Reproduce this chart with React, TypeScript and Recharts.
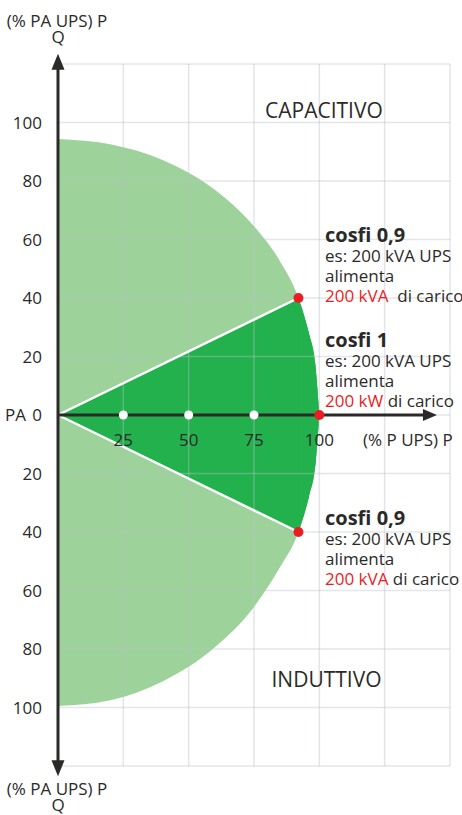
import React from "react";
import {
  Area,
  CartesianGrid,
  ComposedChart,
  ReferenceLine,
  Scatter,
  XAxis,
  YAxis,
} from "recharts";

const FONT = '"Open Sans", sans-serif';
const INK = "#2b2a29";
const LIGHT_GREEN = "#9dd39b";
const DARK_GREEN = "#22b14c";
const RED = "#ec1c24";

// Boundary of the UPS capability area: x = % of rated P, y = % of rated Q.
const ARC_X = [0, 20, 40, 60, 75, 85, 92, 96, 98.5, 100];
const ARC_TOP = [94.4, 92.6, 87.2, 77, 64.5, 52.5, 40, 28, 17, 0];
const ARC_BOTTOM = [-99.5, -97.5, -91.1, -79.4, -65.6, -52, -40, -28, -17, 0];

// cosfi 0,9 corners
const PF_P = 92;
const PF_Q = 40;

const X_TICKS = [0, 25, 50, 75, 100, 125, 150];
const Y_TICKS = [-120, -100, -80, -60, -40, -20, 0, 20, 40, 60, 80, 100, 120];
const AXIS_MARKS = [25, 50, 75, 100];
const RED_POINTS = [
  { x: 100, y: 0 },
  { x: PF_P, y: PF_Q },
  { x: PF_P, y: -PF_Q },
];

const data = ARC_X.map((x, i) => ({
  x,
  shell: [ARC_BOTTOM[i], ARC_TOP[i]],
  cap: x >= PF_P ? [ARC_BOTTOM[i], ARC_TOP[i]] : null,
  wedge: x === 0 ? [0, 0] : x >= PF_P ? [ARC_BOTTOM[i], ARC_TOP[i]] : null,
}));

const markData = AXIS_MARKS.map((x) => ({ x, y: 0 }));

function QTick(props: any) {
  const { x, y, payload } = props;
  const v = payload.value;
  if (Math.abs(v) > 100) return <g />;
  return (
    <g fontFamily={FONT} fontSize={17} fill={INK}>
      {v === 0 && (
        <text x={5} y={y} dy="0.355em" fill={INK}>
          PA
        </text>
      )}
      <text x={x} y={y} dy="0.355em" textAnchor="end" fill={INK}>
        {Math.abs(v)}
      </text>
    </g>
  );
}

function AxisMark(props: any) {
  const { cx, cy, payload } = props;
  return (
    <g>
      {payload.x < 100 && <circle cx={cx} cy={cy} r={4.5} fill="#fff" />}
      <text
        x={cx}
        y={cy + 31}
        textAnchor="middle"
        fontFamily={FONT}
        fontSize={17}
        fill={INK}
      >
        {payload.x}
      </text>
    </g>
  );
}

function RedDot(props: any) {
  return <circle cx={props.cx} cy={props.cy} r={5} fill={RED} />;
}

function Arrow(props: any) {
  const { x1, y1, x2, y2, both, len, wide } = props;
  const dx = x2 - x1;
  const dy = y2 - y1;
  const d = Math.hypot(dx, dy) || 1;
  const ux = dx / d;
  const uy = dy / d;
  const head = (tx: number, ty: number, sx: number, sy: number) => {
    const bx = tx - sx * len;
    const by = ty - sy * len;
    return `${tx},${ty} ${bx - (sy * wide) / 2},${by + (sx * wide) / 2} ${
      bx + (sy * wide) / 2
    },${by - (sx * wide) / 2}`;
  };
  const sx = both ? x1 + ux * (len - 2) : x1;
  const sy = both ? y1 + uy * (len - 2) : y1;
  return (
    <g>
      <line
        x1={sx}
        y1={sy}
        x2={x2 - ux * (len - 2)}
        y2={y2 - uy * (len - 2)}
        stroke={INK}
        strokeWidth={3}
      />
      <polygon points={head(x2, y2, ux, uy)} fill={INK} />
      {both && <polygon points={head(x1, y1, -ux, -uy)} fill={INK} />}
    </g>
  );
}

function Note({
  x,
  y,
  title,
  load,
  gap,
}: {
  x: number;
  y: number;
  title: string;
  load: string;
  gap: string;
}) {
  return (
    <g fontFamily={FONT} fill={INK}>
      <text x={x} y={y} fontSize={20} fontWeight={700}>
        {title}
      </text>
      <text x={x} y={y + 20} fontSize={17}>
        es: 200 kVA UPS
      </text>
      <text x={x} y={y + 40} fontSize={17}>
        alimenta
      </text>
      <text x={x} y={y + 60} fontSize={17}>
        <tspan fill={RED}>{load}</tspan>
        <tspan>{gap + "di carico"}</tspan>
      </text>
    </g>
  );
}

export default function App() {
  return (
    <div style={{ position: "relative", width: 462, height: 815 }}>
      <style>{"body{margin:0}"}</style>
      <ComposedChart
        width={462}
        height={815}
        data={data}
        margin={{ top: 64, right: 12, bottom: 49, left: 0 }}
      >
        <XAxis type="number" dataKey="x" domain={[0, 150]} ticks={X_TICKS} hide />
        <YAxis
          type="number"
          dataKey="y"
          domain={[-120, 120]}
          ticks={Y_TICKS}
          interval={0}
          width={58}
          axisLine={false}
          tickLine={false}
          tickMargin={10}
          tick={<QTick />}
        />
        <Area
          dataKey="shell"
          type="monotone"
          fill={LIGHT_GREEN}
          fillOpacity={1}
          stroke="none"
          isAnimationActive={false}
        />
        <Area
          dataKey="wedge"
          type="linear"
          connectNulls
          fill={DARK_GREEN}
          fillOpacity={1}
          stroke="none"
          isAnimationActive={false}
        />
        <Area
          dataKey="cap"
          type="monotone"
          connectNulls
          fill={DARK_GREEN}
          fillOpacity={1}
          stroke="none"
          isAnimationActive={false}
        />
        <CartesianGrid
          stroke="#b9bfc9"
          strokeOpacity={0.4}
          strokeWidth={1.5}
          {...({ zIndex: 150 } as any)}
        />
        <ReferenceLine
          segment={[
            { x: 0, y: 0 },
            { x: PF_P, y: PF_Q },
          ]}
          stroke="#fff"
          strokeWidth={2.5}
          ifOverflow="visible"
        />
        <ReferenceLine
          segment={[
            { x: 0, y: 0 },
            { x: PF_P, y: -PF_Q },
          ]}
          stroke="#fff"
          strokeWidth={2.5}
          ifOverflow="visible"
        />
        <ReferenceLine
          segment={[
            { x: 0, y: -123.5 },
            { x: 0, y: 123.5 },
          ]}
          ifOverflow="visible"
          shape={(p: any) => <Arrow {...p} both len={16} wide={13} />}
        />
        <ReferenceLine
          segment={[
            { x: 0, y: 0 },
            { x: 145, y: 0 },
          ]}
          ifOverflow="visible"
          shape={(p: any) => <Arrow {...p} len={14} wide={12} />}
        />
        <Scatter data={markData} shape={AxisMark} isAnimationActive={false} />
        <Scatter data={RED_POINTS} shape={RedDot} isAnimationActive={false} />
      </ComposedChart>
      <svg
        width={462}
        height={815}
        style={{ position: "absolute", left: 0, top: 0, pointerEvents: "none" }}
      >
        <g fontFamily={FONT} fill={INK} fontSize={17}>
          <text x={57} y={27} textAnchor="middle">(% PA UPS) P</text>
          <text x={58} y={43} textAnchor="middle">Q</text>
          <text x={57} y={795} textAnchor="middle">(% PA UPS) P</text>
          <text x={58} y={811} textAnchor="middle">Q</text>
          <text x={363} y={446}>(% P UPS) P</text>
          <text x={265} y={117.5} fontSize={21}>CAPACITIVO</text>
          <text x={271.5} y={686.5} fontSize={21}>INDUTTIVO</text>
        </g>
        <Note x={325} y={242} title="cosfi 0,9" load="200 kVA" gap={"\u00a0 "} />
        <Note x={325} y={347} title="cosfi 1" load="200 kW" gap=" " />
        <Note x={325} y={525} title="cosfi 0,9" load="200 kVA" gap=" " />
      </svg>
    </div>
  );
}
